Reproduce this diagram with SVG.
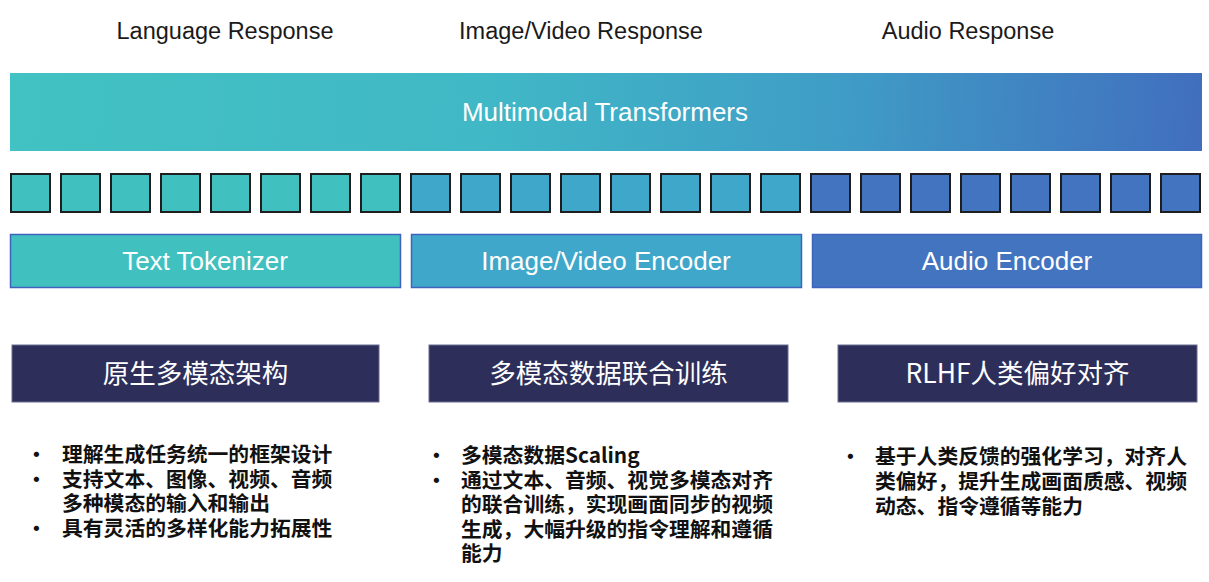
<svg xmlns="http://www.w3.org/2000/svg" width="1209" height="582" viewBox="0 0 1209 582">
<defs>
<linearGradient id="gTop" gradientUnits="userSpaceOnUse" x1="10" y1="73" x2="1202" y2="151">
<stop offset="0" stop-color="#42C2C2"/>
<stop offset="0.4" stop-color="#40B8C6"/>
<stop offset="0.7" stop-color="#3F9CC6"/>
<stop offset="1" stop-color="#416EBE"/>
</linearGradient>
<style>
.hdr{font-family:"Liberation Sans",Arial,sans-serif;font-size:23.5px;fill:#1a1a1a;text-anchor:middle}
.wt{font-family:"Liberation Sans",Arial,sans-serif;font-size:26px;fill:#ffffff;text-anchor:middle}
.sq{stroke:#1e1e1e;stroke-width:2}
.t1{fill:#41C0C0}
.t2{fill:#3FA8CA}
.t3{fill:#4274C0}
.enc{stroke:#3F63BC;stroke-width:1.5}
.dk{fill:#2D2F5A;stroke:#6a6c90;stroke-width:1}
.ttl{font-family:"Noto Sans CJK SC","Noto Sans",sans-serif;font-size:26.5px;fill:#ffffff;text-anchor:middle}
.bl{font-family:"Noto Sans CJK SC","Noto Sans",sans-serif;font-size:20.8px;font-weight:bold;fill:#111111}
</style>
</defs>
<rect width="1209" height="582" fill="#ffffff"/>

<g id="headers">
<text class="hdr" x="225" y="39">Language Response</text>
<text class="hdr" x="581" y="39">Image/Video Response</text>
<text class="hdr" x="968" y="39">Audio Response</text>
</g>

<g id="transformers">
<rect x="10" y="73" width="1192" height="78" fill="url(#gTop)"/>
<text class="wt" x="605" y="121">Multimodal Transformers</text>
</g>

<g id="tokens">
<rect class="sq t1" x="11" y="174" width="39" height="38"/>
<rect class="sq t1" x="61" y="174" width="39" height="38"/>
<rect class="sq t1" x="111" y="174" width="39" height="38"/>
<rect class="sq t1" x="161" y="174" width="39" height="38"/>
<rect class="sq t1" x="211" y="174" width="39" height="38"/>
<rect class="sq t1" x="261" y="174" width="39" height="38"/>
<rect class="sq t1" x="311" y="174" width="39" height="38"/>
<rect class="sq t1" x="361" y="174" width="39" height="38"/>
<rect class="sq t2" x="411" y="174" width="39" height="38"/>
<rect class="sq t2" x="461" y="174" width="39" height="38"/>
<rect class="sq t2" x="511" y="174" width="39" height="38"/>
<rect class="sq t2" x="561" y="174" width="39" height="38"/>
<rect class="sq t2" x="611" y="174" width="39" height="38"/>
<rect class="sq t2" x="661" y="174" width="39" height="38"/>
<rect class="sq t2" x="711" y="174" width="39" height="38"/>
<rect class="sq t2" x="761" y="174" width="39" height="38"/>
<rect class="sq t3" x="811" y="174" width="39" height="38"/>
<rect class="sq t3" x="861" y="174" width="39" height="38"/>
<rect class="sq t3" x="911" y="174" width="39" height="38"/>
<rect class="sq t3" x="961" y="174" width="39" height="38"/>
<rect class="sq t3" x="1011" y="174" width="39" height="38"/>
<rect class="sq t3" x="1061" y="174" width="39" height="38"/>
<rect class="sq t3" x="1111" y="174" width="39" height="38"/>
<rect class="sq t3" x="1161" y="174" width="39" height="38"/>
</g>

<g id="text-tokenizer">
<rect class="enc t1" x="10.5" y="234.5" width="390" height="53"/>
<text class="wt" x="205" y="270">Text Tokenizer</text>
</g>
<g id="image-video-encoder">
<rect class="enc t2" x="411.5" y="234.5" width="390" height="53"/>
<text class="wt" x="606" y="270">Image/Video Encoder</text>
</g>
<g id="audio-encoder">
<rect class="enc t3" x="812.5" y="234.5" width="389" height="53"/>
<text class="wt" x="1007" y="270">Audio Encoder</text>
</g>

<g id="native-arch">
<rect class="dk" x="12" y="345" width="367" height="57"/>
<text class="ttl" x="195.5" y="383">原生多模态架构</text>
<text class="bl"><tspan x="26" y="462">•</tspan><tspan x="62" y="462">理解生成任务统一的框架设计</tspan><tspan x="26" y="486.5">•</tspan><tspan x="62" y="486.5">支持文本、图像、视频、音频</tspan><tspan x="62" y="511">多种模态的输入和输出</tspan><tspan x="26" y="535.5">•</tspan><tspan x="62" y="535.5">具有灵活的多样化能力拓展性</tspan></text>
</g>

<g id="joint-training">
<rect class="dk" x="429" y="345" width="359" height="57"/>
<text class="ttl" x="608.5" y="383">多模态数据联合训练</text>
<text class="bl"><tspan x="426" y="463">•</tspan><tspan x="461" y="463">多模态数据Scaling</tspan><tspan x="426" y="487.5">•</tspan><tspan x="461" y="487.5">通过文本、音频、视觉多模态对齐</tspan><tspan x="461" y="512">的联合训练，实现画面同步的视频</tspan><tspan x="461" y="536.5">生成，大幅升级的指令理解和遵循</tspan><tspan x="461" y="561">能力</tspan></text>
</g>

<g id="rlhf">
<rect class="dk" x="838" y="345" width="359" height="57"/>
<text class="ttl" x="1017.5" y="383">RLHF人类偏好对齐</text>
<text class="bl"><tspan x="840" y="464">•</tspan><tspan x="875" y="464">基于人类反馈的强化学习，对齐人</tspan><tspan x="875" y="489">类偏好，提升生成画面质感、视频</tspan><tspan x="875" y="514">动态、指令遵循等能力</tspan></text>
</g>
</svg>
